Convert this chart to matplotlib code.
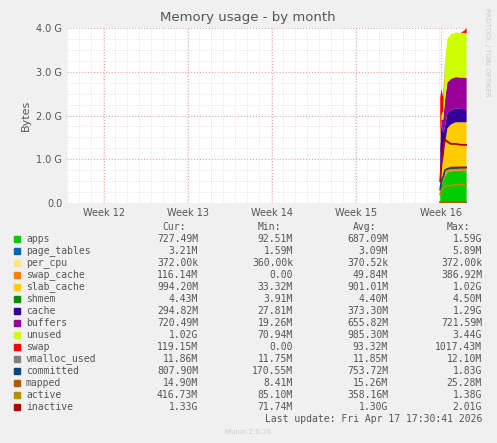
import matplotlib.pyplot as plt
import numpy as np

G = 1024 ** 3

# time in days since the start of the month window
days = [31.1, 31.2, 31.35, 31.5, 31.7, 32.0, 32.4, 32.8, 33.1, 33.3]

# stacked areas (GB)
apps = [0.30, 0.40, 0.50, 0.60, 0.70, 0.72, 0.74, 0.73, 0.73, 0.73]
page_tables = [0.003] * 10
per_cpu = [0.0004] * 10
swap_cache = [0.05, 0.20, 0.10, 0.05, 0.10, 0.12, 0.12, 0.12, 0.12, 0.12]
slab_cache = [0.10, 0.20, 0.40, 0.70, 0.90, 0.95, 0.98, 0.99, 0.99, 0.99]
shmem = [0.004] * 10
cache = [0.80, 1.00, 0.60, 0.40, 0.35, 0.33, 0.31, 0.30, 0.30, 0.29]
buffers = [0.05, 0.10, 0.30, 0.60, 0.70, 0.71, 0.72, 0.72, 0.72, 0.72]
unused = [0.10, 0.10, 0.20, 0.90, 1.00, 1.02, 1.02, 1.02, 1.02, 1.02]
swap = [1.00, 0.60, 0.30, 0.00, 0.00, 0.00, 0.00, 0.00, 0.05, 0.12]

# lines (GB)
vmalloc_used = [0.012] * 10
committed = [0.30, 0.50, 0.60, 0.75, 0.78, 0.80, 0.80, 0.81, 0.81, 0.81]
mapped = [0.010, 0.015, 0.020, 0.015, 0.015, 0.015, 0.015, 0.015, 0.015, 0.015]
active = [0.20, 0.30, 0.35, 0.40, 0.38, 0.40, 0.42, 0.42, 0.42, 0.42]
inactive = [0.50, 0.90, 1.30, 1.45, 1.40, 1.35, 1.35, 1.33, 1.33, 1.33]

week_labels = ["Week 12", "Week 13", "Week 14", "Week 15", "Week 16"]
week_pos = [3.08, 10.08, 17.08, 24.08, 31.16]

legend_rows = [
    ("apps", "#00CC00", "727.49M", "92.51M", "687.09M", "1.59G"),
    ("page_tables", "#0066B3", "3.21M", "1.59M", "3.09M", "5.89M"),
    ("per_cpu", "#FFE680", "372.00k", "360.00k", "370.52k", "372.00k"),
    ("swap_cache", "#FF8000", "116.14M", "0.00", "49.84M", "386.92M"),
    ("slab_cache", "#FFCC00", "994.20M", "33.32M", "901.01M", "1.02G"),
    ("shmem", "#008F00", "4.43M", "3.91M", "4.40M", "4.50M"),
    ("cache", "#330099", "294.82M", "27.81M", "373.30M", "1.29G"),
    ("buffers", "#990099", "720.49M", "19.26M", "655.82M", "721.59M"),
    ("unused", "#CCFF00", "1.02G", "70.94M", "985.30M", "3.44G"),
    ("swap", "#FF0000", "119.15M", "0.00", "93.32M", "1017.43M"),
    ("vmalloc_used", "#808080", "11.86M", "11.75M", "11.85M", "12.10M"),
    ("committed", "#00487D", "807.90M", "170.55M", "753.72M", "1.83G"),
    ("mapped", "#B35A00", "14.90M", "8.41M", "15.26M", "25.28M"),
    ("active", "#B38F00", "416.73M", "85.10M", "358.16M", "1.38G"),
    ("inactive", "#B30000", "1.33G", "71.74M", "1.30G", "2.01G"),
]
colors = {r[0]: r[1] for r in legend_rows}

W, H = 497, 443
fig = plt.figure(figsize=(W / 100, H / 100), dpi=100, facecolor="#F0F0F0")
ax = fig.add_axes([67 / W, 1 - 203 / H, 400 / W, 175 / H])
ax.set_facecolor("white")

stack_names = ["apps", "page_tables", "per_cpu", "swap_cache", "slab_cache",
               "shmem", "cache", "buffers", "unused", "swap"]
stack_vals = [apps, page_tables, per_cpu, swap_cache, slab_cache,
              shmem, cache, buffers, unused, swap]
ax.stackplot(days, *[np.array(v) * G for v in stack_vals],
             colors=[colors[n] for n in stack_names], linewidth=0)

for name, vals in [("vmalloc_used", vmalloc_used), ("committed", committed),
                   ("mapped", mapped), ("active", active), ("inactive", inactive)]:
    ax.plot(days, np.array(vals) * G, color=colors[name], lw=1.3)

ax.set_xlim(0, 33.33)
ax.set_ylim(0, 4.0 * G)
ax.set_yticks([i * G for i in range(5)])
ax.set_yticklabels(["0.0", "1.0 G", "2.0 G", "3.0 G", "4.0 G"])
ax.set_yticks([i * 0.25 * G for i in range(17)], minor=True)
ax.set_xticks(week_pos)
ax.set_xticklabels(week_labels)
ax.set_xticks(np.arange(0, 33.4, 1), minor=True)
ax.tick_params(labelsize=7, colors="#555555", length=0, which="both")
ax.grid(which="minor", color="#DDDDDD", ls=":", lw=0.6)
ax.grid(which="major", axis="y", color="#F0A0A0", ls=":", lw=0.8)
ax.grid(which="major", axis="x", color="#F0A0A0", ls=":", lw=0.8)
for s in ax.spines.values():
    s.set_visible(False)
ax.set_axisbelow(True)
ax.set_ylabel("Bytes", fontsize=8, color="#555555")

fig.text(248 / W, 1 - 18 / H, "Memory usage - by month", ha="center", va="center",
         fontsize=9.5, color="#555555")
fig.text(487 / W, 1 - 52 / H, "RRDTOOL / TOBI OETIKER", rotation=270, ha="center",
         va="center", fontsize=5, color="#CCCCCC")

mono = "DejaVu Sans Mono"
fs = 7
y0 = 227
fig.text(186 / W, 1 - y0 / H, "Cur:", ha="right", va="center", family=mono, fontsize=fs, color="#555555")
fig.text(281 / W, 1 - y0 / H, "Min:", ha="right", va="center", family=mono, fontsize=fs, color="#555555")
fig.text(376 / W, 1 - y0 / H, "Avg:", ha="right", va="center", family=mono, fontsize=fs, color="#555555")
fig.text(470 / W, 1 - y0 / H, "Max:", ha="right", va="center", family=mono, fontsize=fs, color="#555555")
for i, (name, col, cur, mn, avg, mx) in enumerate(legend_rows):
    y = 1 - (y0 + 12 * (i + 1)) / H
    fig.patches.append(plt.Rectangle((14 / W, y - 3 / H), 6 / W, 6 / H,
                                     transform=fig.transFigure, color=col))
    fig.text(26 / W, y, name, ha="left", va="center", family=mono, fontsize=fs, color="#555555")
    for x, v in [(198, cur), (293, mn), (388, avg), (482, mx)]:
        fig.text(x / W, y, v, ha="right", va="center", family=mono, fontsize=fs, color="#555555")
fig.text(482 / W, 1 - 419 / H, "Last update: Fri Apr 17 17:30:41 2026", ha="right",
         va="center", family=mono, fontsize=fs, color="#555555")
fig.text(248 / W, 1 - 432 / H, "Munin 2.0.76", ha="center", va="center",
         fontsize=5, color="#CCCCCC")

fig.savefig("out.png", dpi=100, facecolor=fig.get_facecolor())
